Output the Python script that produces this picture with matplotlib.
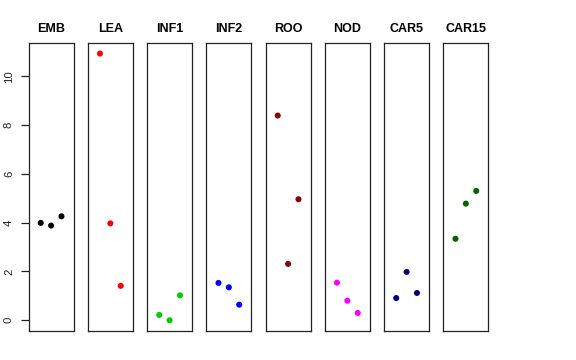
import matplotlib
matplotlib.use("Agg")
import matplotlib.pyplot as plt

# data
groups = ["EMB", "LEA", "INF1", "INF2", "ROO", "NOD", "CAR5", "CAR15"]
colors = ["black", "red", "#00CD00", "blue", "#8B0000", "magenta", "#000080", "#006400"]
emb = [3.99, 3.88, 4.26]
lea = [10.93, 3.97, 1.41]
inf1 = [0.22, 0.0, 1.02]
inf2 = [1.53, 1.35, 0.64]
roo = [8.39, 2.31, 4.96]
nod = [1.54, 0.80, 0.30]
car5 = [0.91, 1.98, 1.12]
car15 = [3.34, 4.78, 5.30]
values = [emb, lea, inf1, inf2, roo, nod, car5, car15]
y_ticks = [0, 2, 4, 6, 8, 10]

plt.rcParams["font.family"] = ["Liberation Sans", "DejaVu Sans"]

W, H = 576, 360
fig = plt.figure(figsize=(W / 100, H / 100), dpi=100)
fig.patch.set_facecolor("white")

left0, pitch, pw = 28.7, 59.25, 44.8
top, bottom = 43.3, 331.0
ph = bottom - top

for i, (name, col, vals) in enumerate(zip(groups, colors, values)):
    ax = fig.add_axes([(left0 + i * pitch) / W, (H - bottom) / H, pw / W, ph / H])
    xs = list(range(1, len(vals) + 1))
    ax.scatter(xs, vals, s=19, color=col, edgecolors="none", zorder=3)
    ax.set_xlim(-0.16, 4.16)
    ax.set_ylim(-0.44, 11.35)
    ax.set_xticks([])
    for sp in ax.spines.values():
        sp.set_linewidth(0.9)
        sp.set_color("#222222")
    if i == 0:
        ax.set_yticks(y_ticks)
        ax.set_yticklabels([str(t) for t in y_ticks], rotation=90, va="center",
                           fontsize=8.2)
        ax.tick_params(axis="y", length=5.6, width=0.9, pad=5, colors="#222222")
    else:
        ax.set_yticks([])
    ax.text(0.5, 1 + 14.3 / ph, name, transform=ax.transAxes, ha="center",
            va="center", fontsize=9, fontweight="bold")

fig.savefig("out.png", dpi=100, facecolor="white")
